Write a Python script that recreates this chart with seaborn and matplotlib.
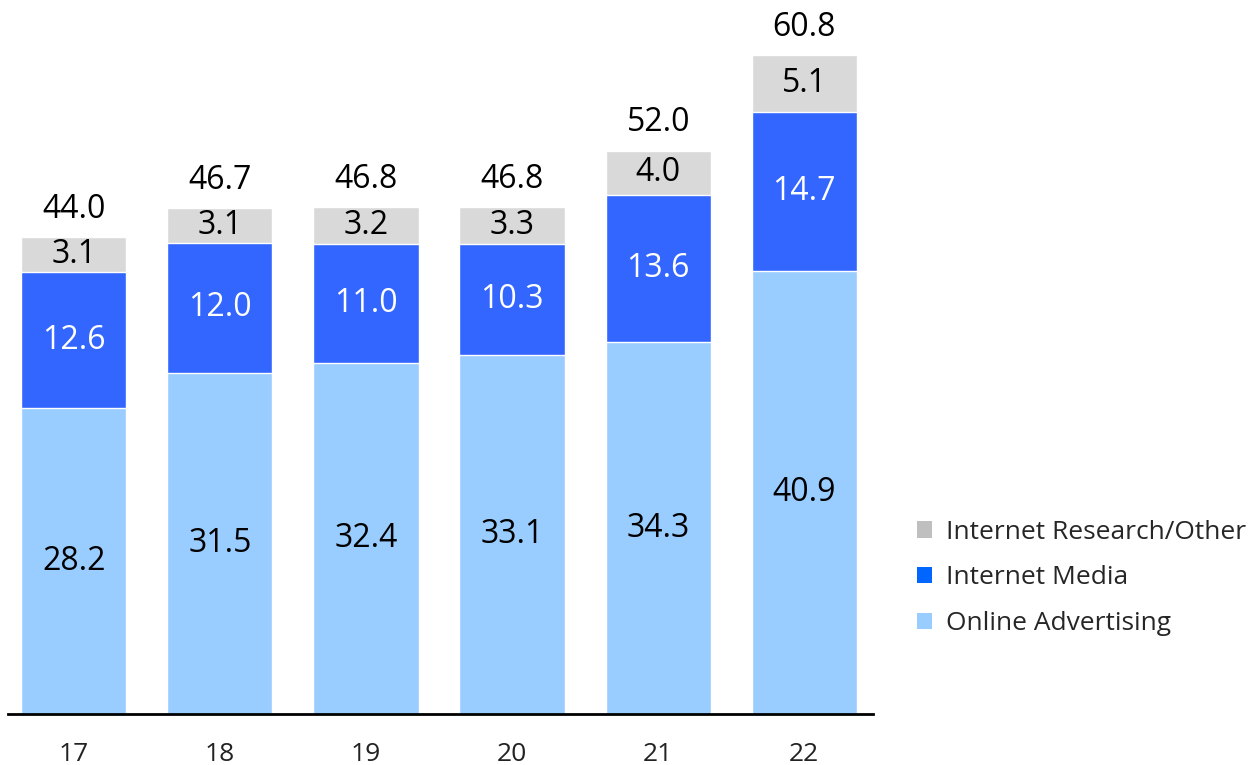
import matplotlib
matplotlib.use("Agg")
import matplotlib.pyplot as plt
from matplotlib.patches import Patch
import seaborn as sns
import pandas as pd
import numpy as np

# Market size by segment (fiscal years 17-22)
years = ["17", "18", "19", "20", "21", "22"]
online_advertising = [28.2, 31.5, 32.4, 33.1, 34.3, 40.9]
internet_media = [12.6, 12.0, 11.0, 10.3, 13.6, 14.7]
research_other = [3.1, 3.1, 3.2, 3.3, 4.0, 5.1]
totals = [44.0, 46.7, 46.8, 46.8, 52.0, 60.8]

series_names = ["Internet Research/Other", "Internet Media", "Online Advertising"]
bar_colors = {"Online Advertising": "#99CCFF", "Internet Media": "#3366FF",
              "Internet Research/Other": "#D9D9D9"}
legend_colors = {"Online Advertising": "#99CCFF", "Internet Media": "#0066FF",
                 "Internet Research/Other": "#BFBFBF"}

sns.set_theme(style="white")
plt.rcParams["font.family"] = ["Open Sans", "DejaVu Sans"]

df = pd.DataFrame({
    "year": years,
    "online": online_advertising,
    "media": internet_media,
    "other": research_other,
    "total": totals,
})
df["online_media"] = df["online"] + df["media"]

fig = plt.figure(figsize=(12.56, 7.65), dpi=100)
ax = fig.add_axes([8 / 1256, 51 / 765, 865 / 1256, 714 / 765])

width = 0.72
# Stacked bars drawn back-to-front from cumulative heights
sns.barplot(data=df, x="year", y="total", color=bar_colors["Internet Research/Other"],
            width=width, saturation=1, ax=ax)
sns.barplot(data=df, x="year", y="online_media", color=bar_colors["Internet Media"],
            width=width, saturation=1, ax=ax)
sns.barplot(data=df, x="year", y="online", color=bar_colors["Online Advertising"],
            width=width, saturation=1, ax=ax)

fs = 23
for i, row in df.iterrows():
    ax.text(i, row["online"] / 2, f"{row['online']:.1f}", ha="center", va="center",
            fontsize=fs, color="black")
    ax.text(i, row["online"] + row["media"] / 2, f"{row['media']:.1f}", ha="center",
            va="center", fontsize=fs, color="white")
    ax.text(i, (row["online_media"] + row["total"]) / 2, f"{row['other']:.1f}",
            ha="center", va="center", fontsize=fs, color="black")
    ax.annotate(f"{row['total']:.1f}", (i, row["total"]), xytext=(0, 8),
                textcoords="offset points", ha="center", va="bottom",
                fontsize=fs, color="black")

ax.set_xlim(-0.45, 5.47)
ax.set_ylim(0, 65.9)
ax.set_xlabel("")
ax.set_ylabel("")
ax.set_yticks([])
for side in ["top", "right", "left"]:
    ax.spines[side].set_visible(False)
ax.spines["bottom"].set_color("black")
ax.spines["bottom"].set_linewidth(2)
ax.tick_params(axis="x", length=0, pad=20, labelsize=19, colors="#222222")

handles = [Patch(facecolor=legend_colors[n], edgecolor="none") for n in series_names]
fig.legend(handles, series_names, loc="center left", bbox_to_anchor=(906 / 1256, 1 - 578 / 765),
           frameon=False, fontsize=19, handlelength=0.58, handleheight=0.58,
           handletextpad=0.55, labelspacing=0.78, borderaxespad=0)

fig.savefig("out.png", dpi=100)
